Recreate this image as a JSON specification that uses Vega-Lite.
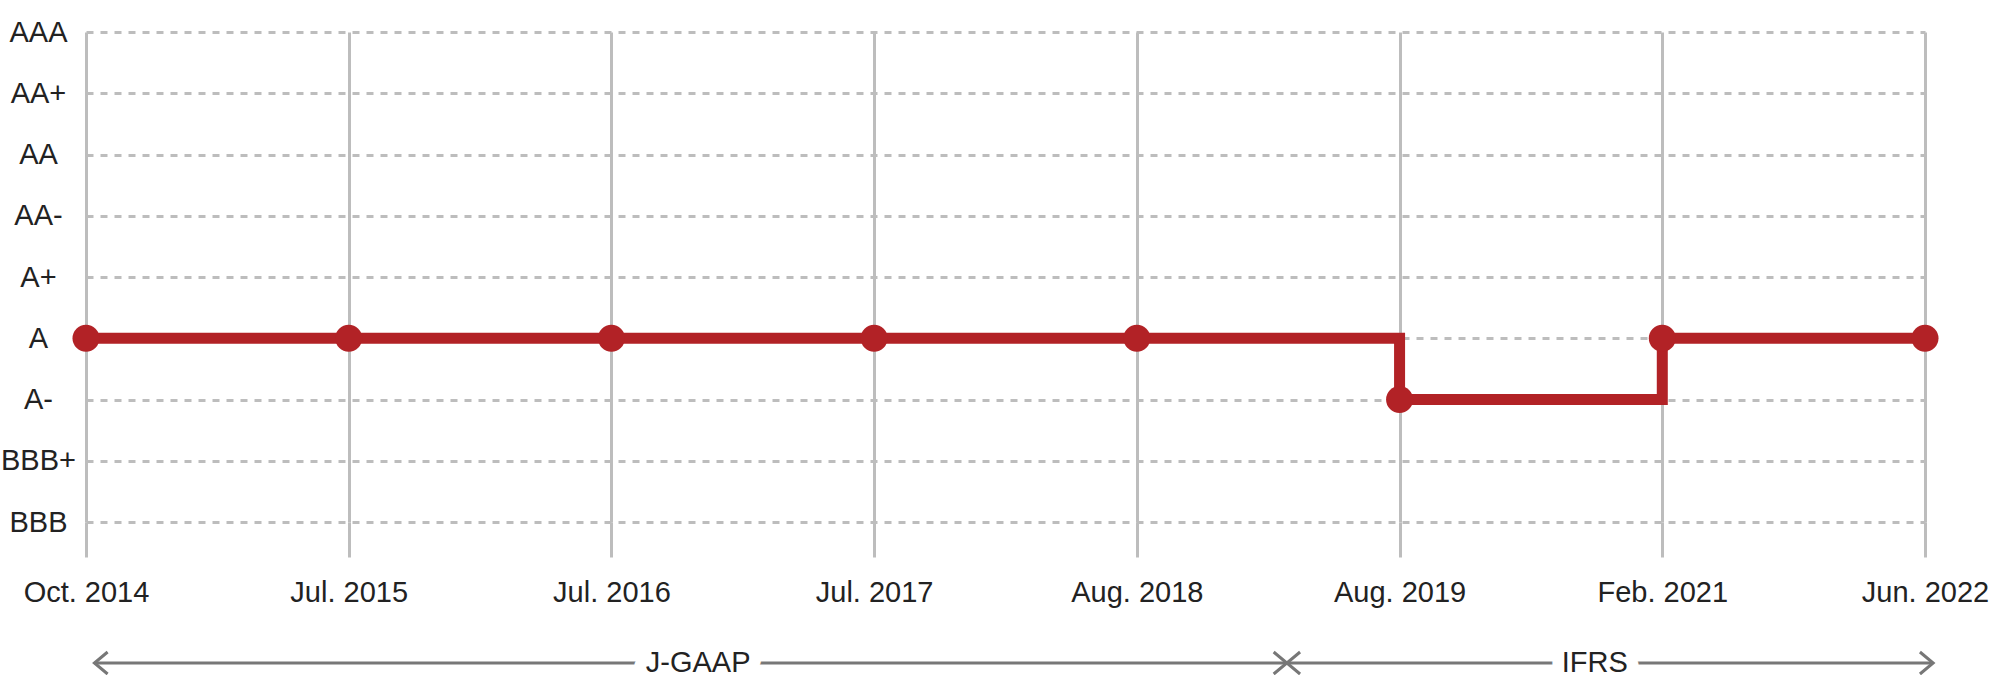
{
  "$schema": "https://vega.github.io/schema/vega-lite/v6.json",
  "description": "Credit rating history, J-GAAP to IFRS.",
  "background": "white",
  "padding": {"left": 0, "top": 18, "right": 0, "bottom": 0},
  "bounds": "flush",
  "spacing": 129,
  "config": {"view": {"stroke": null}, "font": "Liberation Sans"},
  "vconcat": [
    {
      "width": 1839,
      "height": 490,
      "data": {
        "values": [
          {"date": "Oct. 2014", "rating": "A"},
          {"date": "Jul. 2015", "rating": "A"},
          {"date": "Jul. 2016", "rating": "A"},
          {"date": "Jul. 2017", "rating": "A"},
          {"date": "Aug. 2018", "rating": "A"},
          {"date": "Aug. 2019", "rating": "A-"},
          {"date": "Feb. 2021", "rating": "A"},
          {"date": "Jun. 2022", "rating": "A"}
        ]
      },
      "encoding": {
        "x": {
          "field": "date",
          "type": "ordinal",
          "sort": null,
          "scale": {"padding": 0},
          "axis": {
            "title": null,
            "domain": false,
            "ticks": true,
            "tickSize": 35,
            "tickColor": "#bdbdbd",
            "tickWidth": 3,
            "grid": true,
            "gridColor": "#bdbdbd",
            "gridWidth": 3,
            "labelAngle": 0,
            "labelFontSize": 29,
            "labelColor": "#222222",
            "labelPadding": 35,
            "labelBaseline": "middle",
            "labelOverlap": false,
            "labelLimit": 0
          }
        },
        "y": {
          "field": "rating",
          "type": "ordinal",
          "scale": {
            "domain": ["AAA", "AA+", "AA", "AA-", "A+", "A", "A-", "BBB+", "BBB"],
            "padding": 0
          },
          "axis": {
            "title": null,
            "domain": false,
            "ticks": false,
            "labelFontSize": 29,
            "labelColor": "#222222",
            "labelAlign": "center",
            "labelPadding": 48,
            "grid": true,
            "gridDash": [7, 7],
            "gridColor": "#bdbdbd",
            "gridWidth": 3
          }
        }
      },
      "layer": [
        {"mark": {"type": "line", "interpolate": "step-after", "color": "#b22226", "strokeWidth": 11}},
        {"mark": {"type": "point", "filled": true, "opacity": 1, "size": 729, "color": "#b22226"}}
      ]
    },
    {
      "width": 1839,
      "height": 24,
      "data": {
        "values": [
          {"basis": "J-GAAP", "start": 0.032, "end": 4.571, "label_pos": 2.33},
          {"basis": "IFRS", "start": 4.571, "end": 7.031, "label_pos": 5.743}
        ]
      },
      "layer": [
        {
          "mark": {"type": "rule", "color": "#777777", "strokeWidth": 3},
          "encoding": {
            "x": {"field": "start", "type": "quantitative", "scale": {"domain": [0, 7], "nice": false, "zero": false}, "axis": null},
            "x2": {"field": "end"}
          }
        },
        {
          "mark": {"type": "text", "fontSize": 29, "fill": "white", "stroke": "white", "strokeWidth": 24, "strokeJoin": "round", "baseline": "middle"},
          "encoding": {
            "x": {"field": "label_pos", "type": "quantitative", "axis": null},
            "text": {"field": "basis"}
          }
        },
        {
          "transform": [{"fold": ["start", "end"], "as": ["side", "pos"]}],
          "mark": {"type": "point", "filled": false, "stroke": "#777777", "strokeWidth": 3, "size": 484, "opacity": 1},
          "encoding": {
            "x": {"field": "pos", "type": "quantitative", "axis": null},
            "shape": {
              "field": "side",
              "type": "nominal",
              "scale": {"domain": ["start", "end"], "range": ["M1.2,-1L0,0L1.2,1", "M-1.2,-1L0,0L-1.2,1"]},
              "legend": null
            }
          }
        },
        {
          "mark": {"type": "text", "fontSize": 29, "color": "#222222", "baseline": "middle"},
          "encoding": {
            "x": {"field": "label_pos", "type": "quantitative", "axis": null},
            "text": {"field": "basis"}
          }
        }
      ]
    }
  ]
}
